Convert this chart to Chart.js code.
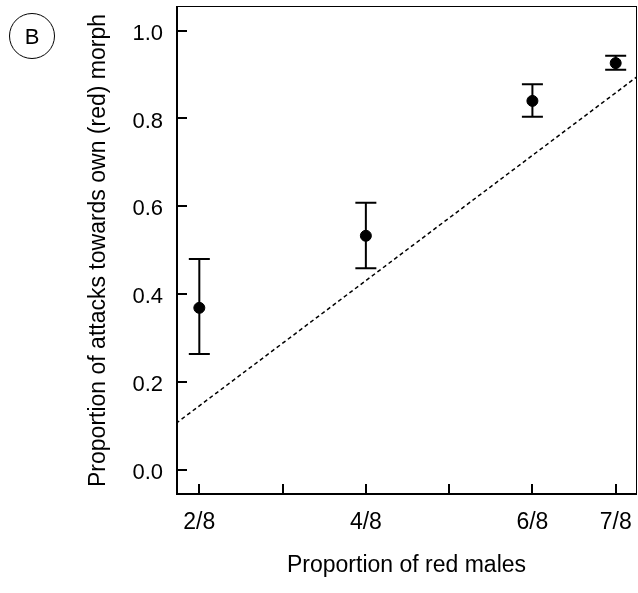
<!DOCTYPE html>
<html>
<head>
<meta charset="utf-8">
<script src="https://cdn.jsdelivr.net/npm/chart.js@4.4.1/dist/chart.umd.min.js"></script>
<style>
  html, body { margin: 0; padding: 0; background: #fff; }
  #wrap { position: relative; width: 638px; height: 593px; }
  #panel {
    position: absolute; left: 9px; top: 13px; width: 46px; height: 46px;
    border: 1px solid #000; border-radius: 50%; box-sizing: border-box;
    font-family: "Liberation Sans", Arial, sans-serif; font-size: 22px;
    line-height: 45px; text-align: center; color: #000;
  }
</style>
</head>
<body>
<div id="wrap">
  <canvas id="c" width="638" height="593"></canvas>
  <div id="panel">B</div>
</div>
<script>
// ---- data ----
const xValues = [2/8, 4/8, 6/8, 7/8];
const meanValues = [0.369, 0.533, 0.840, 0.926];
const errLow = [0.264, 0.459, 0.804, 0.911];
const errHigh = [0.480, 0.608, 0.878, 0.943];
const expectedX = [0.215, 0.907];
const expectedY = [0.106, 0.895];
const xTickValues = [2/8, 3/8, 4/8, 5/8, 6/8, 7/8];
const xTickLabels = ['2/8', '', '4/8', '', '6/8', '7/8'];
const yTickValues = [0, 0.2, 0.4, 0.6, 0.8, 1.0];
const yTickLabels = ['0.0', '0.2', '0.4', '0.6', '0.8', '1.0'];

const FONT = '"Liberation Sans", Arial, sans-serif';

const pointData = xValues.map((x, i) => ({ x: x, y: meanValues[i] }));
const lineData = expectedX.map((x, i) => ({ x: x, y: expectedY[i] }));

function zeroPad(scale) {
  scale.paddingTop = 0; scale.paddingBottom = 0;
  scale.paddingLeft = 0; scale.paddingRight = 0;
}

const framePlugin = {
  id: 'frame',
  beforeDatasetsDraw(chart) {
    const ctx = chart.ctx;
    const xs = chart.scales.x, ys = chart.scales.y;
    ctx.save();
    ctx.strokeStyle = '#000';
    ctx.lineWidth = 2;
    xValues.forEach((x, i) => {
      const px = xs.getPixelForValue(x);
      const pLo = ys.getPixelForValue(errLow[i]);
      const pHi = ys.getPixelForValue(errHigh[i]);
      ctx.beginPath();
      ctx.moveTo(px, pLo); ctx.lineTo(px, pHi);
      ctx.moveTo(px - 10.5, pLo); ctx.lineTo(px + 10.5, pLo);
      ctx.moveTo(px - 10.5, pHi); ctx.lineTo(px + 10.5, pHi);
      ctx.stroke();
    });
    ctx.restore();
  },
  afterDraw(chart) {
    const ctx = chart.ctx;
    const a = chart.chartArea;
    const xs = chart.scales.x, ys = chart.scales.y;
    ctx.save();
    ctx.strokeStyle = '#000';
    ctx.lineWidth = 1;
    ctx.beginPath();
    ctx.moveTo(a.left, a.top + 0.5); ctx.lineTo(a.right, a.top + 0.5);
    ctx.moveTo(a.right - 0.5, a.top); ctx.lineTo(a.right - 0.5, a.bottom);
    ctx.stroke();
    ctx.lineWidth = 2;
    ctx.beginPath();
    ctx.moveTo(a.left + 1, a.top); ctx.lineTo(a.left + 1, a.bottom);
    ctx.moveTo(a.left, a.bottom - 1); ctx.lineTo(a.right, a.bottom - 1);
    ctx.stroke();
    ctx.beginPath();
    xTickValues.forEach(v => {
      const px = Math.round(xs.getPixelForValue(v));
      ctx.moveTo(px, a.bottom); ctx.lineTo(px, a.bottom - 11);
    });
    yTickValues.forEach(v => {
      const py = Math.round(ys.getPixelForValue(v));
      ctx.moveTo(a.left, py); ctx.lineTo(a.left + 11, py);
    });
    ctx.stroke();
    ctx.restore();
  }
};

new Chart(document.getElementById('c'), {
  type: 'scatter',
  data: {
    datasets: [
      {
        type: 'line',
        data: lineData,
        borderColor: '#000',
        borderWidth: 1.5,
        borderDash: [4, 3],
        pointRadius: 0,
        fill: false,
        tension: 0
      },
      {
        data: pointData,
        backgroundColor: '#000',
        borderColor: '#000',
        pointRadius: 5.5,
        pointHoverRadius: 5.5
      }
    ]
  },
  options: {
    responsive: false,
    devicePixelRatio: 1,
    animation: false,
    events: [],
    layout: { autoPadding: false, padding: { left: 80, top: 6, right: 1, bottom: 0 } },
    plugins: { legend: { display: false }, tooltip: { enabled: false } },
    scales: {
      x: {
        type: 'linear',
        min: 0.215,
        max: 0.907,
        grid: { display: false, drawTicks: false },
        border: { display: false },
        afterBuildTicks(scale) { scale.ticks = xTickValues.map(v => ({ value: v })); },
        afterFit(scale) { scale.height = 98; zeroPad(scale); },
        ticks: {
          autoSkip: false,
          maxRotation: 0,
          padding: 0,
          color: '#000',
          font: { family: FONT, size: 23, lineHeight: '56px' },
          callback(value, index) { return xTickLabels[index]; }
        },
        title: {
          display: true,
          text: 'Proportion of red males',
          color: '#000',
          font: { family: FONT, size: 23 },
          padding: { top: 0, bottom: 14 }
        }
      },
      y: {
        type: 'linear',
        min: -0.057,
        max: 1.056,
        grid: { display: false, drawTicks: false },
        border: { display: false },
        afterBuildTicks(scale) { scale.ticks = yTickValues.map(v => ({ value: v })); },
        afterFit(scale) { scale.width = 96; zeroPad(scale); },
        ticks: {
          autoSkip: false,
          padding: 13,
          labelOffset: 3,
          color: '#000',
          font: { family: FONT, size: 22 },
          callback(value, index) { return yTickLabels[index]; }
        },
        title: {
          display: true,
          text: 'Proportion of attacks towards own (red) morph',
          color: '#000',
          font: { family: FONT, size: 23 },
          padding: { top: 5, bottom: 0 }
        }
      }
    }
  },
  plugins: [framePlugin]
});
</script>
</body>
</html>
